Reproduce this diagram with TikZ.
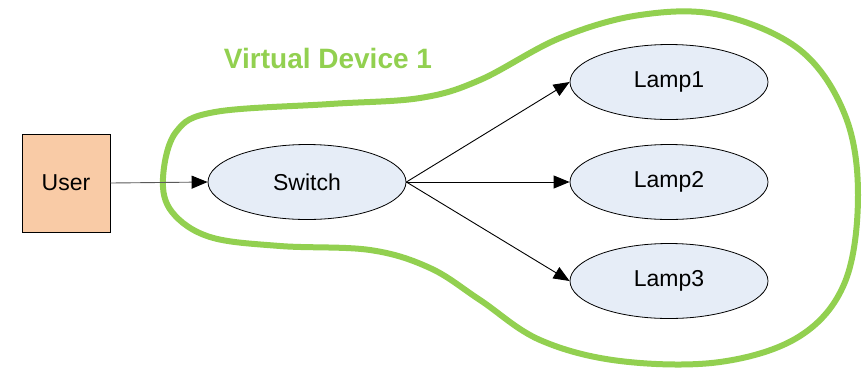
\documentclass[tikz,border=0pt]{standalone}
\usepackage{fontspec}
\setmainfont{Liberation Sans}
\usetikzlibrary{arrows.meta,shapes.geometric}
\definecolor{groupgreen}{HTML}{92D050}
\definecolor{userfill}{HTML}{F9CBA6}
\definecolor{devfill}{HTML}{E6EDF7}
\tikzset{
  actor/.style={draw=black, line width=1pt, fill=userfill, minimum width=88pt,
    minimum height=98pt, inner sep=0pt, font=\fontsize{23}{27}\selectfont},
  device/.style={ellipse, draw=black, line width=0.8pt, fill=devfill,
    minimum width=198pt, minimum height=75pt, inner sep=0pt,
    font=\fontsize{23}{27}\selectfont},
  link/.style={line width=0.9pt,
    -{Triangle[length=16pt,width=13pt,color=black,fill=black]}},
  grouping/.style={draw=groupgreen, line width=6pt},
  grouplabel/.style={text=groupgreen, font=\bfseries\fontsize{28}{32}\selectfont}
}
\begin{document}
\begin{tikzpicture}[x=1pt,y=-1pt]
  \useasboundingbox (0,0) rectangle (863,368);

  % outline of the virtual device
  \draw[grouping] plot[smooth cycle, tension=0.6] coordinates {
    (163,178) (176,132) (215,112) (330,104) (420,98) (480,80) (560,38)
    (640,15) (720,15) (800,50) (845,115) (858,195) (845,282) (800,336)
    (720,362) (620,361) (540,340) (480,300) (430,268) (370,250) (280,246)
    (210,237) (172,212)};
  \node[grouplabel] (vdlabel) at (328,58) {Virtual Device 1};

  \node[actor] (user) at (66,183) {User};
  \node[device] (switch) at (307,182) {Switch};
  \node[device] (lamp1) at (669,82) {Lamp1};
  \node[device] (lamp2) at (669,182) {Lamp2};
  \node[device] (lamp3) at (669,281) {Lamp3};

  \draw[link, draw=black!65] (user.east) -- (switch.west);
  \draw[link] (switch.east) -- (lamp1.west);
  \draw[link] (switch.east) -- (lamp2.west);
  \draw[link] (switch.east) -- (lamp3.west);
\end{tikzpicture}
\end{document}
